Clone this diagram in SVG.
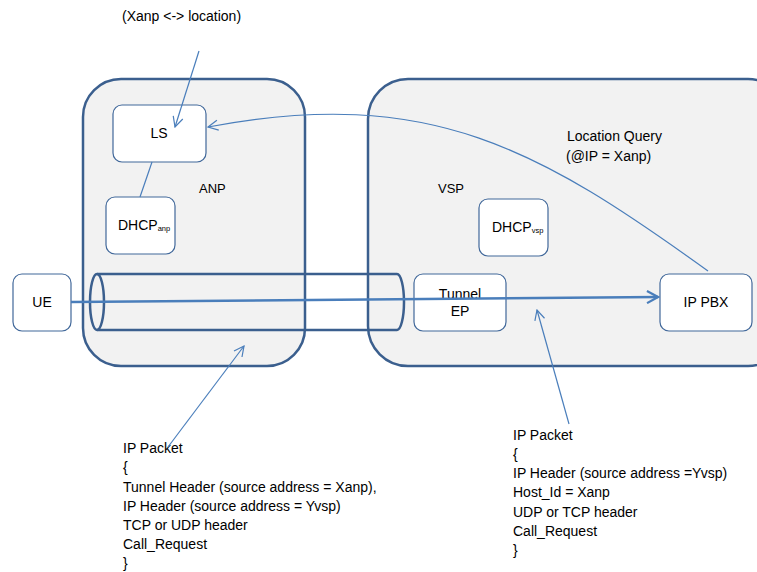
<svg xmlns="http://www.w3.org/2000/svg" width="757" height="572" viewBox="0 0 757 572">
<style>
text{font-family:"Liberation Sans",Arial,sans-serif;font-size:14px;fill:#000}
.lbl{font-size:13px}
.big{fill:#f2f2f2;stroke:#3b5f8e;stroke-width:2.5}
.node{fill:#fff;stroke:#41689a;stroke-width:1.2}
.thin{fill:none;stroke:#4a7ebb;stroke-width:1.2}
.sub{font-size:7.5px}
</style>
<defs>
<marker id="open" viewBox="0 0 12 12" refX="11" refY="6" markerWidth="12" markerHeight="12" markerUnits="userSpaceOnUse" orient="auto">
<path d="M1,1 L11,6 L1,11" fill="none" stroke="#4a7ebb" stroke-width="1.2"/>
</marker>
<marker id="openBig" viewBox="0 0 14 14" refX="12" refY="7" markerWidth="14" markerHeight="14" markerUnits="userSpaceOnUse" orient="auto">
<path d="M1,1 L12,7 L1,13" fill="none" stroke="#4a7ebb" stroke-width="2.2"/>
</marker>
</defs>
<rect width="757" height="572" fill="#fff"/>
<g id="anp">
<rect class="big" x="83" y="79" width="222" height="287" rx="38"/>
<text class="lbl" x="199" y="193">ANP</text>
</g>
<g id="vsp">
<rect class="big" x="368" y="79" width="420" height="287" rx="40"/>
<text class="lbl" x="438" y="193">VSP</text>
</g>
<g id="tunnel">
<path d="M97,274 L397,274 A7,28 0 0 1 397,330 L97,330" fill="none" stroke="#3b5f8e" stroke-width="2.5"/>
<ellipse cx="97" cy="302" rx="7" ry="28" fill="none" stroke="#3b5f8e" stroke-width="2.5"/>
</g>
<g id="ls">
<rect class="node" x="113" y="105" width="93" height="57" rx="9"/>
<text x="159" y="138" text-anchor="middle" font-size="11">LS</text>
</g>
<g id="dhcp-anp">
<rect class="node" x="106" y="197" width="69" height="57" rx="9"/>
<text x="118" y="230" font-size="11">DHCP<tspan class="sub" dy="1">anp</tspan></text>
</g>
<g id="dhcp-vsp">
<rect class="node" x="479" y="199" width="69" height="57" rx="9"/>
<text x="492" y="232" font-size="11">DHCP<tspan class="sub" dy="1">vsp</tspan></text>
</g>
<g id="ue">
<rect class="node" x="13" y="274" width="58" height="57" rx="9"/>
<text x="42" y="307" text-anchor="middle" font-size="13">UE</text>
</g>
<g id="tunnel-ep">
<rect class="node" x="414" y="274" width="92" height="57" rx="9"/>
<text x="460" y="299" text-anchor="middle" font-size="12">Tunnel</text>
<text x="460" y="316" text-anchor="middle" font-size="12">EP</text>
</g>
<g id="ip-pbx">
<rect class="node" x="660" y="274" width="92" height="57" rx="9"/>
<text x="706" y="307" text-anchor="middle" font-size="11">IP PBX</text>
</g>
<g id="labels">
<text x="122" y="21">(Xanp &lt;-&gt; location)</text>
<text x="567" y="141">Location Query</text>
<text x="566" y="161">(@IP = Xanp)</text>
<text x="123" y="453">IP Packet</text>
<text x="123" y="472">{</text>
<text x="123" y="492">Tunnel Header (source address = Xanp),</text>
<text x="123" y="511">IP Header (source address = Yvsp)</text>
<text x="123" y="530">TCP or UDP header</text>
<text x="123" y="549">Call_Request</text>
<text x="123" y="568">}</text>
<text x="513" y="440">IP Packet</text>
<text x="513" y="459">{</text>
<text x="513" y="478">IP Header (source address =Yvsp)</text>
<text x="513" y="497">Host_Id = Xanp</text>
<text x="513" y="517">UDP or TCP header</text>
<text x="513" y="536">Call_Request</text>
<text x="513" y="555">}</text>
</g>
<g id="connectors">
<line class="thin" x1="152" y1="162" x2="140" y2="197"/>
<line class="thin" x1="199" y1="51" x2="175" y2="127" marker-end="url(#open)"/>
<path class="thin" d="M708,271 C540,150 430,85 208,127" marker-end="url(#open)"/>
<line x1="71" y1="302" x2="658" y2="297" stroke="#4a7ebb" stroke-width="2.5" marker-end="url(#openBig)"/>
<line class="thin" x1="168" y1="447" x2="244" y2="346" marker-end="url(#open)"/>
<line class="thin" x1="569" y1="424" x2="537" y2="310" marker-end="url(#open)"/>
</g>
</svg>
